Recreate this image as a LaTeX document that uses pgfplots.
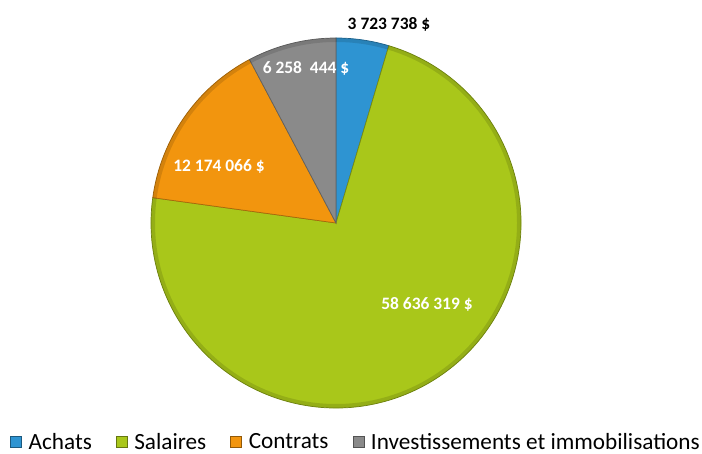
\documentclass[border=0pt]{standalone}
\usepackage{pgfplots}
\pgfplotsset{compat=1.18}
\usepackage{pgfplotstable}
\usepackage{fontspec}
\setmainfont{Carlito}
\definecolor{cA}{HTML}{2E94D2}
\definecolor{cB}{HTML}{A9C71A}
\definecolor{cC}{HTML}{F2950E}
\definecolor{cD}{HTML}{8A8A8A}
\pgfplotstableread{
cat value
Achats 3723738
Salaires 58636319
Contrats 12174066
Investissements 6258444
}\piedata
\begin{document}
\begin{tikzpicture}
\pgfplotstablegetelem{0}{value}\of\piedata \edef\vA{\pgfplotsretval}
\pgfplotstablegetelem{1}{value}\of\piedata \edef\vB{\pgfplotsretval}
\pgfplotstablegetelem{2}{value}\of\piedata \edef\vC{\pgfplotsretval}
\pgfplotstablegetelem{3}{value}\of\piedata \edef\vD{\pgfplotsretval}
\edef\tot{\fpeval{\vA+\vB+\vC+\vD}}
\edef\aO{90}
\edef\aA{\fpeval{90-360*\vA/\tot}}
\edef\aB{\fpeval{\aA-360*\vB/\tot}}
\edef\aC{\fpeval{\aB-360*\vC/\tot}}
\edef\aD{\fpeval{\aC-360*\vD/\tot}}
\begin{axis}[
  scale only axis, width=702bp, height=454bp,
  xmin=0, xmax=702, ymin=0, ymax=454,
  hide axis, clip=false,
  legend columns=4,
  legend style={at={(axis cs:355,3)}, anchor=south, draw=none, fill=none,
    font=\fontsize{23.3}{26}\selectfont, inner sep=0pt,
    nodes={inner sep=0pt},
    /tikz/every even column/.append style={column sep=24bp}},
]
\path (rel axis cs:0,0) rectangle (rel axis cs:1,1);
\addlegendimage{legend image code/.code={\filldraw[fill=cA,draw=cA!60!black,line width=0.5bp] (0bp,-5.5bp) rectangle (11bp,5.5bp); \path (18bp,0);}}
\addlegendentry{Achats}
\addlegendimage{legend image code/.code={\filldraw[fill=cB,draw=cB!60!black,line width=0.5bp] (0bp,-5.5bp) rectangle (11bp,5.5bp); \path (18bp,0);}}
\addlegendentry{Salaires}
\addlegendimage{legend image code/.code={\filldraw[fill=cC,draw=cC!60!black,line width=0.5bp] (0bp,-5.5bp) rectangle (11bp,5.5bp); \path (18bp,0);}}
\addlegendentry{Contrats}
\addlegendimage{legend image code/.code={\filldraw[fill=cD,draw=cD!60!black,line width=0.5bp] (0bp,-5.5bp) rectangle (11bp,5.5bp); \path (18bp,0);}}
\addlegendentry{Investissements et immobilisations}
\filldraw[fill=cA, draw=cA!70!black, line width=0.7bp] (axis cs:336,231) -- ++(\aO:185bp) arc[start angle=\aO, end angle=\aA, radius=185bp] -- cycle;
\filldraw[fill=cB, draw=cB!70!black, line width=0.7bp] (axis cs:336,231) -- ++(\aA:185bp) arc[start angle=\aA, end angle=\aB, radius=185bp] -- cycle;
\filldraw[fill=cC, draw=cC!70!black, line width=0.7bp] (axis cs:336,231) -- ++(\aB:185bp) arc[start angle=\aB, end angle=\aC, radius=185bp] -- cycle;
\filldraw[fill=cD, draw=cD!70!black, line width=0.7bp] (axis cs:336,231) -- ++(\aC:185bp) arc[start angle=\aC, end angle=\aD, radius=185bp] -- cycle;
\draw[black, opacity=0.12, line width=4bp] (axis cs:336,231) circle[radius=183bp];
\node[font=\fontsize{17.5}{20}\selectfont\bfseries, text=black] at (axis cs:389,430) {3 723 738 \$};
\node[font=\fontsize{17.5}{20}\selectfont\bfseries, text=white] at (axis cs:306,386) {6 258\ \ 444 \$};
\node[font=\fontsize{17.5}{20}\selectfont\bfseries, text=white] at (axis cs:219,288) {12 174 066 \$};
\node[font=\fontsize{17.5}{20}\selectfont\bfseries, text=white] at (axis cs:427,150) {58 636 319 \$};
\end{axis}
\end{tikzpicture}
\end{document}
